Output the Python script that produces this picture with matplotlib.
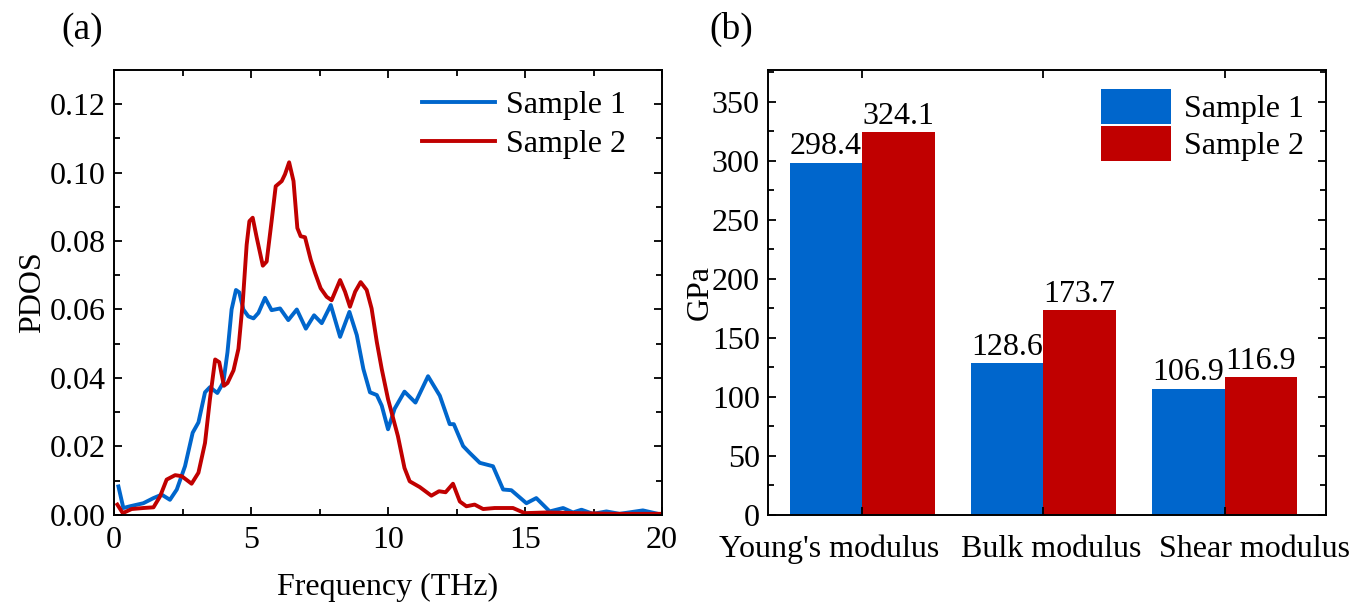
import numpy as np
import matplotlib
matplotlib.use('Agg')
import matplotlib.pyplot as plt
import matplotlib.transforms as mtrans
from matplotlib.ticker import MultipleLocator

plt.rcParams['font.family'] = ['Liberation Serif', 'DejaVu Serif']
plt.rcParams['font.size'] = 23

#%% data
freq1 = [0.16, 0.34, 0.58, 1.07, 1.44, 1.74, 2.04, 2.29, 2.59, 2.87, 3.08, 3.32, 3.5,
         3.77, 3.99, 4.14, 4.29, 4.45, 4.57, 4.72, 4.9, 5.09, 5.27, 5.51, 5.75, 6.06,
         6.36, 6.67, 7.0, 7.3, 7.58, 7.91, 8.25, 8.59, 8.86, 9.1, 9.34, 9.59, 9.77,
         10.0, 10.24, 10.6, 11.0, 11.46, 11.89, 12.25, 12.4, 12.74, 12.98, 13.35,
         13.83, 14.2, 14.5, 15.05, 15.41, 15.9, 16.39, 16.75, 17.06, 17.48, 17.97,
         18.45, 19.3, 19.85]
pdos1 = [0.0083, 0.002, 0.0025, 0.0034, 0.0049, 0.0059, 0.0044, 0.0074, 0.0142, 0.024,
         0.027, 0.0358, 0.0373, 0.0356, 0.0387, 0.0475, 0.060, 0.0657, 0.065, 0.060,
         0.058, 0.0574, 0.059, 0.0634, 0.0598, 0.0603, 0.0569, 0.060, 0.0544, 0.0583,
         0.056, 0.0613, 0.052, 0.0593, 0.0525, 0.0426, 0.0358, 0.035, 0.0319, 0.025,
         0.031, 0.036, 0.0328, 0.0405, 0.0348, 0.0265, 0.0265, 0.0201, 0.0181, 0.0152,
         0.0142, 0.0074, 0.0072, 0.0034, 0.0049, 0.001, 0.002, 0.0007, 0.0015, 0.0003,
         0.001, 0.0003, 0.0013, 0.0003]

freq2 = [0.12, 0.32, 0.64, 1.07, 1.44, 1.68, 1.92, 2.23, 2.47, 2.83, 3.08, 3.32, 3.5,
         3.69, 3.84, 4.01, 4.14, 4.36, 4.54, 4.7, 4.84, 4.94, 5.06, 5.21, 5.43, 5.57,
         5.75, 5.9, 6.12, 6.24, 6.39, 6.55, 6.69, 6.81, 6.97, 7.18, 7.34, 7.54, 7.76,
         7.94, 8.25, 8.43, 8.61, 8.8, 9.0, 9.22, 9.4, 9.59, 9.77, 10.0, 10.36, 10.6,
         10.79, 11.16, 11.58, 11.86, 12.1, 12.37, 12.62, 12.86, 13.16, 13.47, 13.89,
         14.56, 14.99, 15.78, 17.0, 18.2, 19.9]
pdos2 = [0.003, 0.0005, 0.0017, 0.002, 0.0022, 0.0054, 0.0103, 0.0116, 0.0113, 0.0091,
         0.0123, 0.021, 0.0338, 0.0454, 0.0446, 0.0377, 0.0385, 0.0422, 0.0485, 0.0623,
         0.0789, 0.0858, 0.0868, 0.0809, 0.0728, 0.074, 0.0858, 0.096, 0.0975, 0.0995,
         0.103, 0.0975, 0.0838, 0.0814, 0.0811, 0.0745, 0.0706, 0.0662, 0.0637, 0.0627,
         0.0686, 0.0652, 0.0608, 0.0652, 0.068, 0.0657, 0.0603, 0.0505, 0.0426, 0.0338,
         0.023, 0.0137, 0.0098, 0.0081, 0.0056, 0.0069, 0.0066, 0.0091, 0.0039, 0.0025,
         0.003, 0.0017, 0.002, 0.002, 0.0005, 0.0007, 0.0005, 0.0003, 0.0003]

moduli = ["Young's modulus", 'Bulk modulus', 'Shear modulus']
gpa1 = [298.4, 128.6, 106.9]
gpa2 = [324.1, 173.7, 116.9]

blue = '#0066CC'
red = '#C00000'

#%%
fig = plt.figure(figsize=(13.69, 6.05), dpi=100)

def style(ax):
    ax.tick_params(which='both', direction='in', top=True, right=True, width=1.3)
    ax.tick_params(which='major', length=6, pad=6)
    ax.tick_params(which='minor', length=4)
    for s in ax.spines.values():
        s.set_linewidth(1.4)

ax1 = fig.add_axes([0.0833, 0.149, 0.4003, 0.7355])
ax1.plot(freq1, pdos1, color=blue, lw=2.8, label='Sample 1')
ax1.plot(freq2, pdos2, color=red, lw=2.8, label='Sample 2')
ax1.set_xlim(0, 20)
ax1.set_ylim(0, 0.13)
ax1.xaxis.set_major_locator(MultipleLocator(5))
ax1.xaxis.set_minor_locator(MultipleLocator(2.5))
ax1.yaxis.set_major_locator(MultipleLocator(0.02))
ax1.yaxis.set_minor_locator(MultipleLocator(0.01))
ax1.yaxis.set_major_formatter(plt.FormatStrFormatter('%.2f'))
ax1.set_xlabel('Frequency (THz)', labelpad=13)
ax1.set_ylabel('PDOS', labelpad=2)
style(ax1)
ax1.tick_params(axis='x', which='major', pad=8)
ax1.legend(loc='upper right', frameon=False, handlelength=2.3, handletextpad=0.35,
           borderaxespad=0.2, labelspacing=0.3, bbox_to_anchor=(0.97, 0.997))
fig.text(0.045, 0.935, '(a)', fontsize=27)

ax2 = fig.add_axes([0.561, 0.149, 0.4076, 0.7355])
x = np.arange(len(moduli))
w = 0.4
b1 = ax2.bar(x - w / 2, gpa1, w, color=blue, label='Sample 1')
b2 = ax2.bar(x + w / 2, gpa2, w, color=red, label='Sample 2')
for bars, vals in ((b1, gpa1), (b2, gpa2)):
    for r, v in zip(bars, vals):
        ax2.text(r.get_x() + r.get_width() / 2, v + 1, '%.1f' % v,
                 ha='center', va='bottom', fontsize=23)
ax2.set_xlim(-0.52, 2.56)
ax2.set_ylim(0, 377)
ax2.set_xticks(x)
ax2.set_xticklabels([])
# category names, outer ones nudged outward like the original
trans = mtrans.blended_transform_factory(ax2.transData, ax2.transAxes)
for xi, name, dx in zip(x, moduli, [-0.18, 0.045, 0.165]):
    ax2.text(xi + dx, -0.045, name, transform=trans, ha='center', va='top')
ax2.yaxis.set_major_locator(MultipleLocator(50))
ax2.yaxis.set_minor_locator(MultipleLocator(25))
ax2.set_ylabel('GPa', labelpad=-2)
style(ax2)
ax2.legend(loc='upper right', frameon=False, handlelength=2.2, handleheight=1.3,
           handletextpad=0.4, labelspacing=0.05, borderaxespad=0.2,
           bbox_to_anchor=(0.995, 1.0))
fig.text(0.518, 0.935, '(b)', fontsize=27)

plt.savefig('out.png', dpi=100)
